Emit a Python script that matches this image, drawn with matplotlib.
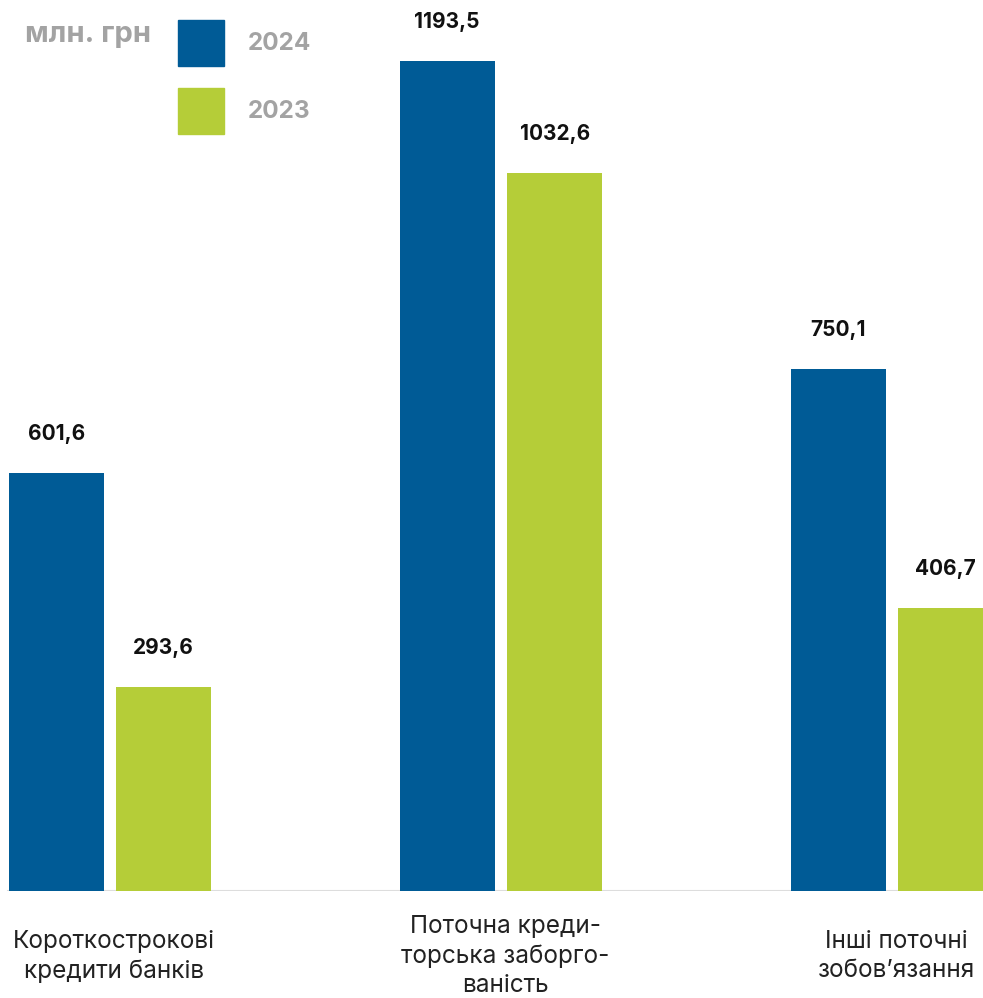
import matplotlib
matplotlib.use("Agg")
import matplotlib.pyplot as plt
import numpy as np

plt.rcParams['font.family'] = ['Inter', 'DejaVu Sans']

# data
categories = ["Короткострокові\nкредити банків",
              "Поточна креди-\nторська заборго-\nваність",
              "Інші поточні\nзобов\u2019язання"]
values_2024 = [601.6, 1193.5, 750.1]
values_2023 = [293.6, 1032.6, 406.7]
labels_2024 = ["601,6", "1193,5", "750,1"]
labels_2023 = ["293,6", "1032,6", "406,7"]
series_names = ["2024", "2023"]

blue = "#005b96"
green = "#b5cd38"
grey = "#a3a3a3"

W, H = 983, 998
fig = plt.figure(figsize=(W / 100, H / 100), dpi=100)
base_y = 891
ax = fig.add_axes([0, 1 - base_y / H, 1, base_y / H])

x = np.arange(len(categories))
width = 95 / 391
off = 53.75 / 391
b1 = ax.bar(x - off, values_2024, width, color=blue)
b2 = ax.bar(x + off, values_2023, width, color=green)

for bars, labs in [(b1, labels_2024), (b2, labels_2023)]:
    for rect, lab in zip(bars, labs):
        ax.annotate(lab, (rect.get_x() + rect.get_width() / 2, rect.get_height()),
                    xytext=(0, 28), textcoords="offset points",
                    ha="center", va="center", fontsize=15, fontweight="bold",
                    color="#111111")

ax.set_xlim(-110 / 391, (W - 110) / 391)
ax.set_ylim(0, base_y / 0.6954)
ax.axis("off")
ax.axhline(0, xmin=8 / W, xmax=1, color="#dddddd", lw=1.5, zorder=0)

# category labels under the axis
for xi, cat in zip(x, categories):
    ax.annotate(cat, (xi, 0), xytext=(3, -47), textcoords="offset points",
                ha="center", va="center", fontsize=17.5, color="#222222",
                linespacing=1.35, annotation_clip=False)

# legend / units
fig.text(25 / W, 1 - 35 / H, "млн. грн", fontsize=21, fontweight="bold",
         color=grey, ha="left", va="center")
for i, (name, col) in enumerate(zip(series_names, [blue, green])):
    top = 20 + i * 68
    fig.patches.append(plt.Rectangle((178 / W, 1 - (top + 46) / H), 46 / W, 46 / H,
                                     transform=fig.transFigure, color=col))
    fig.text(248 / W, 1 - (top + 24) / H, name, fontsize=17.5, fontweight="bold",
             color=grey, ha="left", va="center")

fig.savefig("out.png", dpi=100)
